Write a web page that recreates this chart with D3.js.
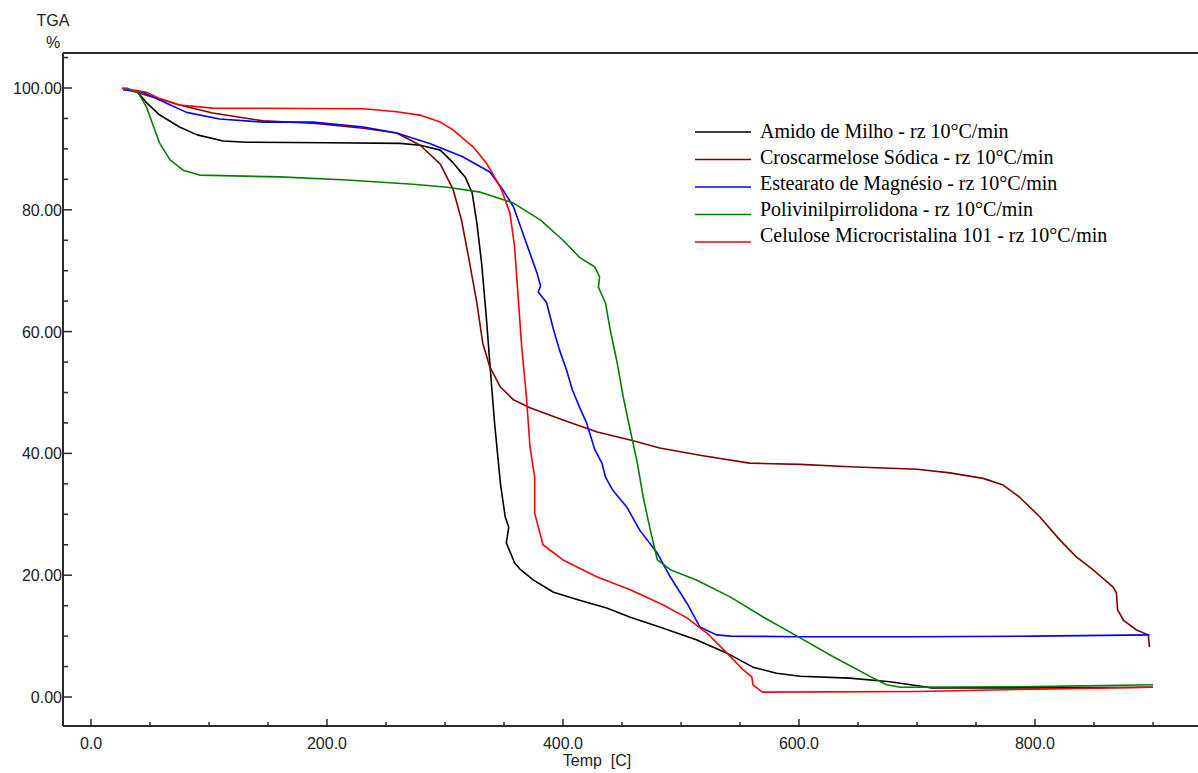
<!DOCTYPE html>
<html>
<head>
<meta charset="utf-8">
<script src="https://cdn.jsdelivr.net/npm/d3@7"></script>
<style>
  html, body { margin: 0; padding: 0; background: #ffffff; }
  svg { display: block; }
  .tick-label { font-family: "Liberation Sans", Arial, sans-serif; font-size: 16px; fill: #222; }
  .legend-label { font-family: "Liberation Serif", "Times New Roman", serif; font-size: 20px; fill: #000; }
</style>
</head>
<body>
<svg id="chart" width="1198" height="773"></svg>
<script>
// TGA curves: [temperature °C, mass %]
const amidoMilho = [[29,100],[40,99.2],[47,97.6],[58,95.6],[75,93.6],[90,92.3],[112,91.3],[132,91.1],[200,91.0],[262,90.9],[279,90.6],[296,89.8],[307,87.7],[317,85.4],[323,82.8],[327,77.8],[331,71.3],[335,62.4],[338,54.8],[342,45.0],[347,35.0],[351,29.6],[354,27.9],[352,25.3],[359,22.0],[364,20.9],[375,19.2],[392,17.2],[414,15.9],[437,14.6],[457,13.1],[485,11.3],[513,9.4],[539,7.2],[561,4.9],[581,3.9],[601,3.4],[643,3.1],[677,2.5],[702,1.8],[712,1.5],[800,1.5],[900,1.6]];

const croscarmelose = [[27,100],[47,98.8],[75,97.2],[103,95.9],[146,94.6],[188,94.2],[231,93.4],[259,92.6],[279,90.6],[296,87.5],[307,83.3],[314,78.3],[320,72.2],[327,64.7],[332,58.1],[338,54.2],[347,50.9],[358,48.8],[372,47.5],[400,45.5],[429,43.5],[457,42.2],[482,40.9],[516,39.7],[558,38.4],[601,38.2],[643,37.8],[700,37.4],[728,36.8],[756,35.9],[773,34.8],[787,32.8],[804,29.6],[821,25.8],[835,23.0],[849,20.9],[866,18.1],[869,17.1],[870,14.3],[875,12.6],[886,11.0],[896,10.2],[897,8.2]];

const estearatoMg = [[27,99.7],[44,99.3],[64,97.5],[81,96.0],[109,94.9],[146,94.4],[188,94.4],[231,93.6],[259,92.6],[287,90.9],[315,88.7],[338,86.2],[349,83.3],[358,80.5],[369,74.5],[378,69.6],[381,67.5],[379,66.5],[383,65.5],[386,64.8],[392,60.3],[397,57.0],[403,53.7],[408,50.4],[414,47.6],[420,45.0],[427,40.6],[433,38.4],[436,36.1],[442,34.0],[454,31.2],[465,27.4],[480,23.6],[491,19.7],[505,15.4],[516,11.5],[530,10.2],[542,10.0],[600,9.9],[700,9.9],[800,10.0],[897,10.2]];

const polivinilpirrolidona = [[30,100],[40,99.2],[47,96.9],[52,94.2],[58,91.0],[67,88.2],[78,86.5],[92,85.7],[160,85.4],[217,84.9],[273,84.2],[302,83.7],[330,82.9],[358,81.1],[381,78.3],[400,75.0],[414,72.2],[427,70.6],[431,69.0],[430,67.3],[436,64.7],[440,60.3],[446,54.8],[451,49.3],[457,43.8],[463,38.4],[468,32.8],[474,27.4],[480,22.5],[491,20.9],[513,19.2],[542,16.4],[570,13.1],[601,9.7],[629,6.6],[663,3.1],[674,2.0],[686,1.6],[800,1.7],[900,2.0]];

const celuloseMicro = [[26,100],[47,99.3],[58,98.3],[75,97.2],[103,96.7],[231,96.6],[259,96.1],[280,95.5],[296,94.4],[307,93.1],[324,90.3],[335,87.7],[347,83.7],[355,79.5],[359,73.9],[362,65.7],[365,57.5],[369,49.3],[372,41.1],[376,36.1],[376,30.2],[383,25.0],[400,22.5],[429,19.7],[457,17.6],[485,15.1],[505,13.0],[522,10.5],[539,7.2],[553,4.4],[560,3.3],[561,2.0],[569,0.8],[700,0.9],[800,1.3],[900,1.6]];

const seriesNames = [
  "Amido de Milho - rz 10°C/min",
  "Croscarmelose Sódica - rz 10°C/min",
  "Estearato de Magnésio - rz 10°C/min",
  "Polivinilpirrolidona - rz 10°C/min",
  "Celulose Microcristalina 101 - rz 10°C/min"
];
const seriesColors = ["#000000", "#800000", "#0000ff", "#008000", "#ff0000"];
const seriesData = [amidoMilho, croscarmelose, estearatoMg, polivinilpirrolidona, celuloseMicro];

const xMajorTicks = [0, 200, 400, 600, 800];
const yMajorTicks = [0, 20, 40, 60, 80, 100];

// frame geometry
const frame = { left: 63, top: 53, right: 1198, bottom: 726 };

const svg = d3.select("#chart");
const x = d3.scaleLinear().domain([0, 900]).range([91, 1153]);
const y = d3.scaleLinear().domain([0, 100]).range([697, 88]);

// frame lines (left axis, top, bottom axis)
const axisColor = "#2a2a2a";
svg.append("line").attr("x1", frame.left).attr("x2", frame.right)
  .attr("y1", frame.top).attr("y2", frame.top)
  .attr("stroke", axisColor).attr("stroke-width", 2);
svg.append("line").attr("x1", frame.left).attr("x2", frame.right)
  .attr("y1", frame.bottom).attr("y2", frame.bottom)
  .attr("stroke", axisColor).attr("stroke-width", 2);
svg.append("line").attr("x1", frame.left).attr("x2", frame.left)
  .attr("y1", frame.top).attr("y2", frame.bottom)
  .attr("stroke", axisColor).attr("stroke-width", 2);

// y ticks: majors every 20, minors every 5, pointing inward
const yMinor = d3.range(5, 106, 5).filter(v => !yMajorTicks.includes(v));
svg.append("g").selectAll("line").data(yMinor).join("line")
  .attr("x1", frame.left).attr("x2", frame.left + 5)
  .attr("y1", d => y(d)).attr("y2", d => y(d))
  .attr("stroke", axisColor).attr("stroke-width", 1.5);
svg.append("g").selectAll("line").data(yMajorTicks).join("line")
  .attr("x1", frame.left).attr("x2", frame.left + 9)
  .attr("y1", d => y(d)).attr("y2", d => y(d))
  .attr("stroke", axisColor).attr("stroke-width", 1.5);
svg.append("g").selectAll("text").data(yMajorTicks).join("text")
  .attr("class", "tick-label")
  .attr("x", frame.left - 1).attr("y", d => y(d) + 6)
  .attr("text-anchor", "end")
  .text(d => d3.format(".2f")(d));

// x ticks: majors every 200, minors every 50, pointing up
const xMinor = d3.range(50, 901, 50).filter(v => !xMajorTicks.includes(v));
svg.append("g").selectAll("line").data(xMinor).join("line")
  .attr("x1", d => x(d)).attr("x2", d => x(d))
  .attr("y1", frame.bottom).attr("y2", frame.bottom - 4)
  .attr("stroke", axisColor).attr("stroke-width", 1.5);
svg.append("g").selectAll("line").data(xMajorTicks).join("line")
  .attr("x1", d => x(d)).attr("x2", d => x(d))
  .attr("y1", frame.bottom).attr("y2", frame.bottom - 7)
  .attr("stroke", axisColor).attr("stroke-width", 1.5);
svg.append("g").selectAll("text").data(xMajorTicks).join("text")
  .attr("class", "tick-label")
  .attr("x", d => x(d)).attr("y", 749)
  .attr("text-anchor", "middle")
  .text(d => d3.format(".1f")(d));

// axis titles
svg.append("text").attr("class", "tick-label")
  .attr("x", 597).attr("y", 766).attr("text-anchor", "middle")
  .style("white-space", "pre")
  .text("Temp  [C]");
svg.append("text").attr("class", "tick-label")
  .attr("x", 53).attr("y", 26).attr("text-anchor", "middle")
  .text("TGA");
svg.append("text").attr("class", "tick-label")
  .attr("x", 53).attr("y", 48).attr("text-anchor", "middle")
  .text("%");

// curves
const line = d3.line().x(d => x(d[0])).y(d => y(d[1]));
svg.append("g").selectAll("path").data(seriesData).join("path")
  .attr("d", line)
  .attr("fill", "none")
  .attr("stroke", (d, i) => seriesColors[i])
  .attr("stroke-width", 1.6)
  .attr("stroke-linejoin", "round");

// legend
const legend = svg.append("g");
seriesNames.forEach((name, i) => {
  legend.append("line")
    .attr("x1", 695).attr("x2", 751)
    .attr("y1", 132 + i * 27.5).attr("y2", 132 + i * 27.5)
    .attr("stroke", seriesColors[i]).attr("stroke-width", 1.5);
  legend.append("text").attr("class", "legend-label")
    .attr("x", 760).attr("y", 138 + i * 26)
    .text(name);
});
</script>
</body>
</html>
